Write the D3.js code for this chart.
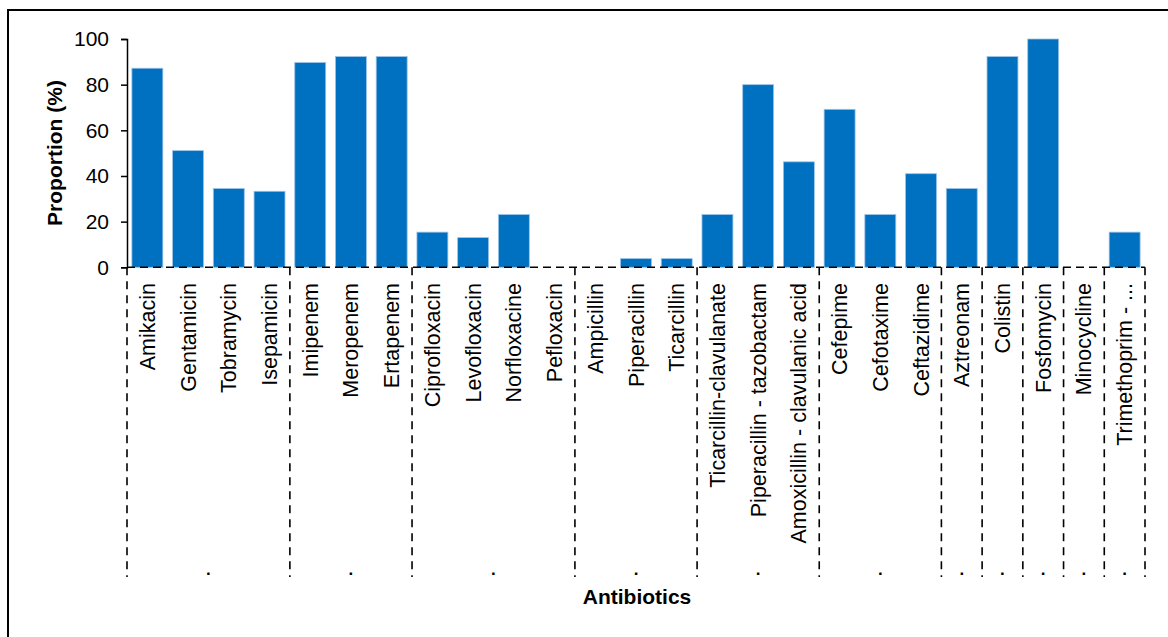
<!DOCTYPE html>
<html>
<head>
<meta charset="utf-8">
<script src="https://cdn.jsdelivr.net/npm/d3@7"></script>
<style>
  html, body { margin: 0; padding: 0; background: #fff; }
  svg { display: block; font-family: "Liberation Sans", Arial, sans-serif; }
</style>
</head>
<body>
<svg id="chart" width="1168" height="637"></svg>
<script>
const categories = ["Amikacin","Gentamicin","Tobramycin","Isepamicin","Imipenem","Meropenem","Ertapenem",
  "Ciprofloxacin","Levofloxacin","Norfloxacine","Pefloxacin","Ampicillin","Piperacillin","Ticarcillin",
  "Ticarcillin-clavulanate","Piperacillin - tazobactam","Amoxicillin - clavulanic acid","Cefepime",
  "Cefotaxime","Ceftazidime","Aztreonam","Colistin","Fosfomycin","Minocycline","Trimethoprim - ..."];
const values = [87.2, 51.1, 34.5, 33.3, 89.7, 92.3, 92.3, 15.4, 13.0, 23.1, 0, 0, 3.8, 3.8,
  23.1, 80.0, 46.2, 69.2, 23.1, 41.0, 34.5, 92.3, 100, 0, 15.4];
// group sizes (number of categories per group in the multi-level axis)
const groupSizes = [4, 3, 4, 3, 3, 3, 1, 1, 1, 1, 1];
const groupLabels = [".", ".", ".", ".", ".", ".", ".", ".", ".", ".", "."];
const yTicks = [0, 20, 40, 60, 80, 100];

(function () {
const svg = d3.select("#chart");
const mLeft = 127, mRight = 1145, mTop = 39, mBottom = 267.3, groupBottom = 577;

// outer frame
svg.append("rect").attr("x", 8).attr("y", 10).attr("width", 1300).attr("height", 800)
  .attr("fill", "none").attr("stroke", "#000").attr("stroke-width", 2);

const x = d3.scaleBand().domain(categories).range([mLeft, mRight]).paddingInner(0.24).paddingOuter(0.12);
const y = d3.scaleLinear().domain([0, 100]).range([mBottom, mTop]);

// bars
svg.append("g").selectAll("rect").data(categories).join("rect")
  .attr("x", d => x(d))
  .attr("width", x.bandwidth())
  .attr("y", (d, i) => y(values[i]))
  .attr("height", (d, i) => mBottom - y(values[i]))
  .attr("fill", "#0070C0")
  .attr("stroke", "#9cc3e8")
  .attr("stroke-width", 0.8);

// y axis
const yAxis = d3.axisLeft(y).tickValues(yTicks).tickSize(6).tickPadding(12);
const gy = svg.append("g").attr("transform", `translate(${mLeft},0)`).call(yAxis);
gy.select(".domain").attr("stroke", "#000").attr("stroke-width", 1.5);
gy.selectAll(".tick line").attr("stroke", "#000").attr("stroke-width", 1.5);
gy.selectAll(".tick text").attr("font-size", 21).attr("fill", "#000")
  .attr("font-family", "Liberation Sans, Arial, sans-serif");

// dashed horizontal axis line
svg.append("line").attr("x1", mLeft).attr("x2", mRight).attr("y1", mBottom).attr("y2", mBottom)
  .attr("stroke", "#000").attr("stroke-width", 1.6).attr("stroke-dasharray", "8,5");

// group separators
let idx = 0;
const bounds = [mLeft];
groupSizes.forEach(n => {
  idx += n;
  bounds.push(idx === categories.length ? mRight : x(categories[idx]) - (x.step() - x.bandwidth()) / 2);
});
svg.append("g").selectAll("line").data(bounds).join("line")
  .attr("x1", d => d).attr("x2", d => d)
  .attr("y1", mBottom).attr("y2", groupBottom)
  .attr("stroke", "#000").attr("stroke-width", 1.6).attr("stroke-dasharray", "8,6");

// group labels (dots)
svg.append("g").selectAll("text").data(groupLabels).join("text")
  .attr("x", (d, i) => (bounds[i] + bounds[i + 1]) / 2)
  .attr("y", 575)
  .attr("text-anchor", "middle")
  .attr("font-size", 17)
  .attr("font-weight", "bold")
  .attr("fill", "#000")
  .text(d => d);

// category labels
svg.append("g").selectAll("text").data(categories).join("text")
  .attr("transform", d => `translate(${x(d) + x.bandwidth() / 2},283) rotate(-90)`)
  .attr("text-anchor", "end")
  .attr("dy", "0.35em")
  .attr("font-size", 21.5)
  .attr("fill", "#000")
  .text(d => d);

// axis titles
svg.append("text")
  .attr("transform", `translate(62,153) rotate(-90)`)
  .attr("text-anchor", "middle")
  .attr("font-size", 21).attr("font-weight", "bold").attr("fill", "#000")
  .text("Proportion (%)");
svg.append("text")
  .attr("x", 637).attr("y", 604)
  .attr("text-anchor", "middle")
  .attr("font-size", 21).attr("font-weight", "bold").attr("fill", "#000")
  .text("Antibiotics");
})();
</script>
</body>
</html>
